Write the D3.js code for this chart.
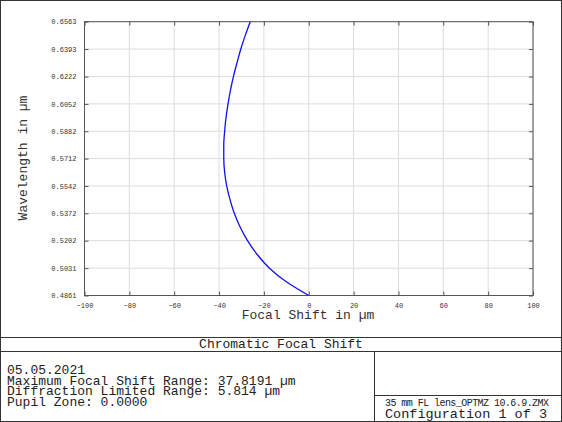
<!DOCTYPE html><html><head><meta charset="utf-8"><script src="https://cdn.jsdelivr.net/npm/d3@7"></script>
<style>body{margin:0;background:#fff}text{font-family:"Liberation Mono","DejaVu Sans Mono",monospace}</style></head><body>
<svg id="c" width="562" height="422"></svg>
<script>
const wavelengths=[0.4861,0.4946,0.5031,0.5116,0.5202,0.5287,0.5372,0.5457,0.5542,0.5627,0.5712,0.5797,0.5882,0.5967,0.6052,0.6137,0.6222,0.6307,0.6393,0.6478,0.6563];
const shifts=[0,-10,-17.5,-23,-27.3,-30.6,-33.2,-35.1,-36.6,-37.5,-37.9,-37.9,-37.5,-36.9,-36,-34.9,-33.6,-32,-30.3,-28.3,-26.1];
const yTicks=[0.4861,0.5031,0.5202,0.5372,0.5542,0.5712,0.5882,0.6052,0.6222,0.6393,0.6563];
const xTicks=[-100,-80,-60,-40,-20,0,20,40,60,80,100];
const svg=d3.select("#c");
svg.append("rect").attr("x",0.5).attr("y",0.5).attr("width",561).attr("height",421).attr("fill","none").attr("stroke","#333");
const L=84.5,R=533,T=21.7,B=295.5;
const x=d3.scaleLinear().domain([-100,100]).range([L,R]);
const y=d3.scaleLinear().domain([0.4861,0.6563]).range([B,T]);
const g=svg.append("g");
xTicks.forEach(t=>g.append("line").attr("x1",x(t)).attr("x2",x(t)).attr("y1",T).attr("y2",B).attr("stroke","#ddd"));
yTicks.forEach(t=>g.append("line").attr("x1",L).attr("x2",R).attr("y1",y(t)).attr("y2",y(t)).attr("stroke","#ddd"));
g.append("rect").attr("x",L).attr("y",T).attr("width",R-L).attr("height",B-T).attr("fill","none").attr("stroke","#555");
svg.append("g").attr("transform",`translate(0,${B})`).call(d3.axisBottom(x).tickValues(xTicks).tickSize(-4).tickPadding(8).tickFormat(d3.format("d"))).call(a=>{a.select(".domain").remove();a.selectAll("text").attr("font-size",7).attr("fill","#333")});
svg.append("g").attr("transform",`translate(0,${T})`).call(d3.axisTop(x).tickValues(xTicks).tickSize(-4).tickFormat("")).call(a=>a.select(".domain").remove());
svg.append("g").attr("transform",`translate(${L},0)`).call(d3.axisLeft(y).tickValues(yTicks).tickSize(-4).tickPadding(8).tickFormat(d3.format(".4f"))).call(a=>{a.select(".domain").remove();a.selectAll("text").attr("font-size",7).attr("fill","#333")});
svg.append("g").attr("transform",`translate(${R},0)`).call(d3.axisRight(y).tickValues(yTicks).tickSize(-4).tickFormat("")).call(a=>a.select(".domain").remove());
svg.selectAll(".tick line").attr("stroke","#555");
svg.append("path").datum(d3.zip(shifts,wavelengths)).attr("fill","none").attr("stroke","#1010ee").attr("stroke-width",1.3)
 .attr("d",d3.line().x(d=>x(d[0])).y(d=>y(d[1])).curve(d3.curveMonotoneY));
svg.append("text").attr("x",308).attr("y",319).attr("text-anchor","middle").attr("font-size",13).attr("fill","#333").text("Focal Shift in µm");
svg.append("text").attr("transform","translate(27,158) rotate(-90)").attr("text-anchor","middle").attr("font-size",13).attr("fill","#333").text("Wavelength in µm");
const ln=(a,b,c,d)=>svg.append("line").attr("x1",a).attr("y1",b).attr("x2",c).attr("y2",d).attr("stroke","#333");
ln(0,337.5,562,337.5);ln(0,351.5,562,351.5);ln(374.5,351.5,374.5,422);ln(374.5,395.5,562,395.5);
svg.append("text").attr("x",281).attr("y",348).attr("text-anchor","middle").attr("font-size",13).attr("fill","#222").text("Chromatic Focal Shift");
["05.05.2021","Maximum Focal Shift Range: 37.8191 µm","Diffraction Limited Range: 5.814 µm","Pupil Zone: 0.0000"].forEach((s,i)=>svg.append("text").attr("x",7).attr("y",374+i*10.5).attr("font-size",13).attr("fill","#222").text(s));
svg.append("text").attr("x",467).attr("y",406).attr("text-anchor","middle").attr("font-size",10).attr("fill","#222").attr("textLength",164).text("35 mm FL lens_OPTMZ 10.6.9.ZMX");
svg.append("text").attr("x",466).attr("y",418).attr("text-anchor","middle").attr("font-size",13.5).attr("fill","#222").text("Configuration 1 of 3");
</script></body></html>
